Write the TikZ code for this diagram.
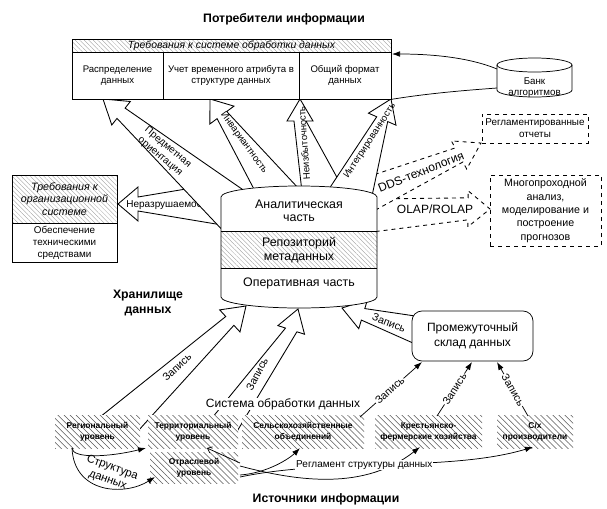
\documentclass[tikz,border=0pt]{standalone}
\usepackage{fontspec}
\setmainfont{Liberation Sans}
\usetikzlibrary{calc,arrows.meta,patterns.meta}
\newcommand\myfs[2]{\fontsize{#1pt}{#2pt}\selectfont}
% #2 left tail, #3 right tail, #4 tip, #5 direction point, #6 head length, #7 head half width, #8 neck half width
\newcommand\blockarr[8][]{%
  \coordinate (ba-b) at ($(#4)!#6!(#5)$);
  \draw[barrow,#1] (#2) -- ($(ba-b)!#8!90:(#4)$) -- ($(ba-b)!#7!90:(#4)$) -- (#4)
    -- ($(ba-b)!#7!-90:(#4)$) -- ($(ba-b)!#8!-90:(#4)$) -- (#3) -- cycle;}
\begin{document}
\begin{tikzpicture}[x=0.75pt,y=-0.75pt,line width=0.55pt,
  barrow/.style={draw=black,fill=white,line width=0.65pt,line join=miter},
  hatchL/.style={pattern={Lines[angle=-45,distance=2.4pt,line width=0.25pt]},pattern color=black!40},
  hatchD/.style={preaction={fill=white},pattern={Lines[angle=-45,distance=3.2pt,line width=0.4pt]},pattern color=black!65},
  cell/.style={draw,fill=white,align=center,inner sep=1pt,font=\myfs{7.2}{8}},
  txt/.style={align=center,inner sep=0pt},
  lab/.style={inner sep=0.6pt,fill=white},
  src/.style={hatchD,align=center,inner sep=0pt,font=\bfseries\myfs{6.3}{8.25}},
  thinarr/.style={-{Latex[length=6pt,width=4.2pt]}},
  ttl/.style={font=\bfseries\myfs{9.2}{11.25},align=center,inner sep=0pt},
]
\useasboundingbox (0,0) rectangle (607,508);

% ---------- block arrows (behind the storage) ----------
\coordinate (nr-l) at (228,226); \coordinate (nr-r) at (228,182); \coordinate (nr-t) at (118,204); \coordinate (nr-d) at (228,204);
\blockarr{nr-l}{nr-r}{nr-t}{nr-d}{15pt}{12.75pt}{5.25pt}
\node[txt,font=\myfs{7.5}{9}] (nrlab) at (169,205) {Неразрушаемость};

\coordinate (pr-l) at (228,236); \coordinate (pr-r) at (252,196); \coordinate (pr-t) at (103,99); \coordinate (pr-d) at (198,174);
\blockarr{pr-l}{pr-r}{pr-t}{pr-d}{17.25pt}{11.25pt}{4.9pt}
\node[txt,rotate=-40,font=\myfs{7.5}{9}] (prlab) at (164,152) {Предметная\\ориентация};

\coordinate (iv-l) at (256,193); \coordinate (iv-r) at (300,190); \coordinate (iv-t) at (210,99); \coordinate (iv-d) at (270,180);
\blockarr{iv-l}{iv-r}{iv-t}{iv-d}{15pt}{11.25pt}{4.5pt}
\node[txt,rotate=-54,font=\myfs{7.2}{8}] (ivlab) at (244,143) {Инвариантность};

\coordinate (ol-l) at (372,199); \coordinate (ol-r) at (372,232); \coordinate (ol-t) at (490,209); \coordinate (ol-d) at (372,208);
\blockarr[dashed]{ol-l}{ol-r}{ol-t}{ol-d}{16.5pt}{13.5pt}{8.25pt}
\coordinate (dd-l) at (352,182); \coordinate (dd-r) at (372,212); \coordinate (dd-t) at (481,143); \coordinate (dd-d) at (393,191);
\blockarr[dashed]{dd-l}{dd-r}{dd-t}{dd-d}{18.75pt}{12pt}{6pt}
\node[lab,rotate=22,font=\myfs{9}{10}] (ddlab) at (421,172) {DDS-технология};
\node[lab,font=\myfs{9}{10}] (ollab) at (435,209) {OLAP/ROLAP};

\coordinate (ni-l) at (302,192); \coordinate (ni-r) at (345,192); \coordinate (ni-t) at (300,99); \coordinate (ni-d) at (300,192);
\blockarr{ni-l}{ni-r}{ni-t}{ni-d}{16.5pt}{9.75pt}{4.5pt}
\node[txt,rotate=94,font=\myfs{7.2}{8}] (nilab) at (304,143) {Неизбыточность};

\coordinate (ig-l) at (325,195); \coordinate (ig-r) at (372,196); \coordinate (ig-t) at (391,99); \coordinate (ig-d) at (357,177);
\blockarr{ig-l}{ig-r}{ig-t}{ig-d}{16.5pt}{11.25pt}{4.5pt}
\node[txt,rotate=57,font=\myfs{7.2}{8}] (iglab) at (370,141) {Интегрированность};

\coordinate (wa-l) at (100,417); \coordinate (wa-r) at (138,431); \coordinate (wa-t) at (246,306); \coordinate (wa-d) at (119,423);
\blockarr{wa-l}{wa-r}{wa-t}{wa-d}{16.5pt}{11.25pt}{4.5pt}
\node[txt,rotate=43,font=\myfs{8}{9}] (walab) at (177,367) {Запись};

\coordinate (wb-l) at (212,418); \coordinate (wb-r) at (236,433); \coordinate (wb-t) at (298,309); \coordinate (wb-d) at (262,420);
\blockarr{wb-l}{wb-r}{wb-t}{wb-d}{16.5pt}{10.5pt}{4.5pt}
\node[txt,rotate=62,font=\myfs{8}{9}] (wblab) at (257,374) {Запись};

\coordinate (wc-l) at (422,347); \coordinate (wc-r) at (422,317); \coordinate (wc-t) at (342,308); \coordinate (wc-d) at (422,332);
\blockarr{wc-l}{wc-r}{wc-t}{wc-d}{16.5pt}{11.25pt}{4.5pt}
\node[lab,rotate=-22,font=\myfs{8}{9}] (wclab) at (389,323) {Запись};

% ---------- storage cylinder ----------
\path[fill=white] (221,197) -- (221,297) arc (180:0:78 and 11) -- (377,197) arc (0:-180:78 and 11) -- cycle;
\fill[hatchL] (221,231) rectangle (377,268);
\draw (221,197) -- (221,297) arc (180:0:78 and 11) -- (377,197) arc (0:-180:78 and 11) -- cycle;
\draw (221,231) -- (377,231) (221,268) -- (377,268);
\node[txt,font=\myfs{9.3}{9.75}] (ana) at (299,210.5) {Аналитическая\\часть};
\node[txt,font=\myfs{9.3}{10.5}] (rep) at (299,250) {Репозиторий\\метаданных};
\node[txt,font=\myfs{9.3}{10}] (oper) at (299,283) {Оперативная часть};

% ---------- top box ----------
\node[ttl] (title1) at (284,19) {Потребители информации};
\node[draw,hatchL,minimum width=239.25pt,minimum height=9.75pt,inner sep=0pt,font=\itshape\myfs{7.8}{9}] (hdr) at (231.5,45.5) {Требования к системе обработки данных};
\node[cell,minimum width=68.25pt,minimum height=35.25pt] (c1) at (117.5,75.5) {Распределение\\данных};
\node[cell,minimum width=102pt,minimum height=35.25pt] (c2) at (231,75.5) {Учет временного атрибута в\\структуре данных};
\node[cell,minimum width=69pt,minimum height=35.25pt] (c3) at (345,75.5) {Общий формат\\данных};

% ---------- bank ----------
\path[fill=white] (497,65) -- (497,90) arc (180:0:37.5 and 7) -- (572,65) arc (0:-180:37.5 and 7) -- cycle;
\draw (497,65) -- (497,90) arc (180:0:37.5 and 7) -- (572,65);
\draw (534.5,65) ellipse (37.5 and 7);
\node[txt,font=\myfs{7.3}{8.25}] (bank) at (534.5,87.5) {Банк\\алгоритмов};
\coordinate (bk-a) at (497,69); \coordinate (bk-in) at (392,54); \coordinate (bk-b) at (497,88);
\draw[thinarr] (bk-a) .. controls (468,57) and (430,54) .. (bk-in);
\draw (c3.south east) .. controls (430,93) and (470,90) .. (bk-b);

% ---------- dashed boxes ----------
\node[draw,dashed,align=center,minimum width=79.5pt,minimum height=21.75pt,inner sep=0pt,font=\myfs{7.4}{9}] (regrep) at (535,128.5) {Регламентированные\\отчеты};
\node[draw,dashed,align=center,minimum width=83.25pt,minimum height=53.25pt,inner sep=0pt,font=\myfs{8}{10}] (multi) at (545.5,210.5) {Многопроходной\\анализ,\\моделирование и\\построение\\прогнозов};

% ---------- left box ----------
\node[draw,hatchL,align=center,minimum width=78.75pt,minimum height=36pt,inner sep=0pt,font=\itshape\myfs{8}{9.5}] (orgA) at (64.5,199) {Требования к\\организационной\\системе};
\node[draw,fill=white,align=center,minimum width=78.75pt,minimum height=29.25pt,inner sep=0pt,font=\myfs{7.4}{9}] (orgB) at (64.5,242.5) {Обеспечение\\техническими\\средствами};

% ---------- intermediate store ----------
\node[draw,fill=white,rounded corners=7.5pt,align=center,minimum width=90.75pt,minimum height=37.5pt,inner sep=0pt,font=\myfs{9}{11.25}] (sklad) at (472.5,336) {Промежуточный\\склад данных};

\node[ttl] (store) at (148,302.5) {Хранилище\\данных};

% ---------- sources ----------
\node[src,minimum width=63.75pt,minimum height=24.75pt] (R) at (97.5,431.5) {Региональный\\уровень};
\node[src,minimum width=67.5pt,minimum height=24.75pt] (T) at (193,431.5) {Территориальный\\уровень};
\node[src,minimum width=91.5pt,minimum height=24.75pt] (S) at (303,431.5) {Сельскохозяйственные\\объединений};
\node[src,minimum width=80.25pt,minimum height=24.75pt] (K) at (428.5,431.5) {Крестьянско-\\фермерские хозяйства};
\node[src,minimum width=57pt,minimum height=24.75pt] (C) at (535,431.5) {С/х\\производители};
\node[src,minimum width=66pt,minimum height=23.25pt] (O) at (194,467.5) {Отраслевой\\уровень};

\node[lab,font=\myfs{9}{10}] (sys) at (283,404) {Система обработки данных};

% ---------- thin connectors ----------
\coordinate (s1a) at (360,417); \coordinate (s1b) at (422,362);
\coordinate (s2a) at (437,416); \coordinate (s2b) at (472,362);
\coordinate (s3a) at (528,416); \coordinate (s3b) at (497,362);
\draw[thinarr] (s1a) -- node[lab,sloped,pos=.48,font=\myfs{8}{9}] {Запись} (s1b);
\draw[thinarr] (s2a) -- node[lab,sloped,pos=.5,font=\myfs{8}{9}] {Запись} (s2b);
\draw[thinarr] (s3a) -- node[lab,sloped,pos=.48,font=\myfs{8}{9}] {Запись} (s3b);

\coordinate (st0) at (72,448); \coordinate (st1) at (146,448); \coordinate (st2) at (155,477);
\draw[thinarr] (st0) .. controls (72,459) and (110,457) .. (st1);
\draw[thinarr] (st0) .. controls (74,494) and (125,496) .. (st2);
\node[txt,rotate=-20,font=\myfs{8.5}{10}] (strlab) at (110,474) {Структура\\данных};

\coordinate (o1) at (240,463); \coordinate (o2) at (240,475); \coordinate (o3) at (240,466); \coordinate (o4) at (240,477);
\coordinate (tin) at (207,448); \coordinate (sin) at (300,448); \coordinate (kin) at (420,447); \coordinate (cin) at (533,447);
\draw[-{Straight Barb[length=3pt,width=5pt]}] (o1) -- (tin);
\draw[thinarr] (o2) .. controls (268,473) and (290,458) .. (sin);
\draw[thinarr] (o3) .. controls (300,482) and (365,490) .. (kin);
\draw[thinarr] (o4) .. controls (330,458) and (450,472) .. node[lab,pos=.42,font=\myfs{7.5}{9}] {Регламент структуры данных} (cin);

\node[ttl] (title2) at (326,499) {Источники информации};
\end{tikzpicture}
\end{document}
